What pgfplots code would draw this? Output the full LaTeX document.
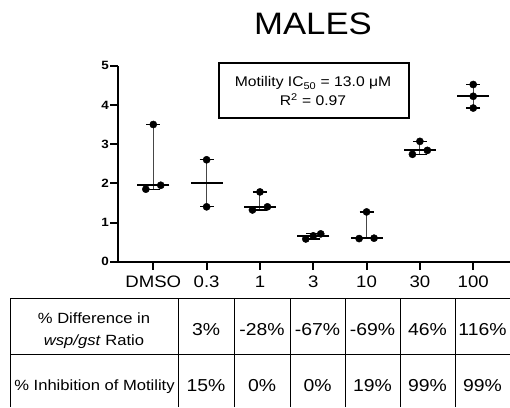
\documentclass[border=0pt]{standalone}
\usepackage{fontspec}
\setmainfont{Liberation Sans}[FakeStretch=1.12]
\usepackage{pgfplots}
\pgfplotsset{compat=1.18}
\begin{document}
\begin{tikzpicture}[x=1pt,y=1pt]
\useasboundingbox (0,0) rectangle (510,407);
\begin{axis}[
  at={(118pt,145.3pt)}, anchor=south west,
  scale only axis, width=392pt, height=196pt,
  xmin=-0.662, xmax=6.69, ymin=0, ymax=5,
  axis x line=bottom, axis y line=left,
  axis line style={-, line width=2pt},
  every tick/.style={line width=2pt, black},
  tick align=outside, major tick length=8pt,
  xtick={0,...,6}, xticklabels={DMSO,0.3,1,3,10,30,100},
  ytick={0,...,5},
  /pgf/number format/assume math mode=true,
  yticklabel style={font=\fontsize{12}{12}\selectfont\bfseries, inner sep=1pt},
  xticklabel style={font=\fontsize{16.6}{16.6}\selectfont, text height=11.9pt, text depth=0pt, inner sep=3pt, yshift=-3pt},
  clip=false,
]
\addplot[mark=none, draw=none, forget plot,
  error bars/.cd, y dir=both, y explicit,
  error bar style={draw=gray!55!black, line width=1pt},
  error mark options={draw=black, line width=1.2pt, mark size=7pt, rotate=90}]
coordinates {
  (0,1.95) +=(0,1.55) -=(0,0.10)
  (1,2.00) +=(0,0.60) -=(0,0.60)
  (2,1.40) +=(0,0.38) -=(0,0.08)
  (3,0.66) +=(0,0.05) -=(0,0.08)
  (4,0.60) +=(0,0.67) -=(0,0.01)
  (5,2.84) +=(0,0.23) -=(0,0.10)
  (6,4.22) +=(0,0.30) -=(0,0.30)
};
\addplot[only marks, mark=-, mark size=16pt, mark options={line width=2pt, black}]
coordinates {(0,1.95) (1,2.00) (2,1.40) (3,0.66) (4,0.60) (5,2.84) (6,4.22)};
\addplot[only marks, mark=*, mark size=3.6pt, black]
coordinates {
  (-0.14,1.85) (0,3.50) (0.14,1.95)
  (1,2.60) (1,1.40)
  (1.86,1.32) (2,1.78) (2.14,1.40)
  (2.86,0.58) (3,0.66) (3.14,0.71)
  (3.86,0.59) (4,1.27) (4.14,0.60)
  (4.86,2.74) (5,3.07) (5.14,2.84)
  (6,4.52) (6,4.22) (6,3.92)
};
\end{axis}
% title
\node[anchor=base, font=\fontsize{31}{31}\selectfont] at (313,372) {MALES};
% annotation box
\draw[line width=1.2pt] (219,289) rectangle (409,344);
\node[anchor=base, font=\fontsize{14}{14}\selectfont] at (313,320) {Motility IC\textsubscript{50} = 13.0 μM};
\node[anchor=base, font=\fontsize{14}{14}\selectfont] at (313,301) {R\textsuperscript{2} = 0.97};
% table
\begin{scope}[line width=0.9pt]
\draw (10.5,0) -- (10.5,109) -- (510,109);
\draw (10.5,53) -- (510,53);
\foreach \xx in {178,234,290,345,400,455} {\draw (\xx,0) -- (\xx,109);}
\end{scope}
\node[anchor=base, font=\fontsize{14.8}{14.8}\selectfont] at (94,84) {\% Difference in};
\node[anchor=base, font=\fontsize{14.8}{14.8}\selectfont] at (94,61.5) {\textit{wsp/gst} Ratio};
\node[anchor=base, font=\fontsize{14.8}{14.8}\selectfont] at (94.5,16.5) {\% Inhibition of Motility};
\foreach \cx/\va/\vb in {206/3\%/15\%, 262/-28\%/0\%, 317.5/-67\%/0\%, 372.5/-69\%/19\%, 427.5/46\%/99\%, 482.5/116\%/99\%} {
  \node[anchor=base, font=\fontsize{17.3}{17.3}\selectfont] at (\cx,71.5) {\va};
  \node[anchor=base, font=\fontsize{17.3}{17.3}\selectfont] at (\cx,16) {\vb};
}
\end{tikzpicture}
\end{document}
